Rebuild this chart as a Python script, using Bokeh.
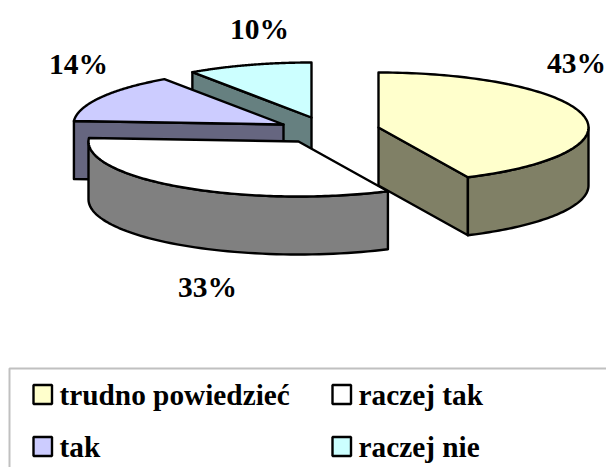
import numpy as np
from bokeh.plotting import figure
from bokeh.models import Range1d
from bokeh.core.properties import value
from bokeh.embed import file_html
from bokeh.resources import INLINE

categories = ["trudno powiedzieć", "raczej tak", "tak", "raczej nie"]
shares = [43.0, 33.0, 14.4, 9.6]
share_labels = ["43%", "33%", "14%", "10%"]
top_colors = ["#FFFFCC", "#FFFFFF", "#CCCCFF", "#CCFFFF"]
side_colors = ["#808066", "#808080", "#666680", "#668080"]

# layout of the exploded pie (page pixels)
centers = [(378, 127), (298, 141), (283, 124), (311, 117)]
label_pos = [(576, 62), (207, 286), (78, 63), (259, 28)]
RX, RY, DEPTH = 210, 55, 58
legend_pos = [(33, 394), (332, 394), (33, 446), (332, 446)]

FONT = value("Liberation Serif")
p = figure(width=606, height=467, output_backend="svg", toolbar_location=None,
           x_range=Range1d(0, 606), y_range=Range1d(467, 0),
           min_border=0, outline_line_color=None, background_fill_color="white",
           border_fill_color="white")
p.axis.visible = False
p.grid.visible = False


def pt(c, pct, dz=0):
    a = np.radians(np.asarray(pct, dtype=float) * 3.6)
    return c[0] + RX * np.sin(a), c[1] - RY * np.cos(a) + dz


def poly(xs, ys, color):
    p.patch(list(xs), list(ys), fill_color=color, line_color="black",
            line_width=2.4, line_join="round")


starts = np.concatenate([[0], np.cumsum(shares)[:-1]])
ends = np.cumsum(shares)

# back to front: raczej nie, tak, raczej tak, trudno powiedziec
for i in [3, 2, 1, 0]:
    c = centers[i]
    s, e = starts[i], ends[i]
    # visible radial wall
    rad = None
    if i == 0:
        rad = e
    elif i in (2, 3):
        rad = s
    if rad is not None:
        x0, y0 = pt(c, rad)
        x1, y1 = pt(c, rad, DEPTH)
        poly([x0, c[0], c[0], x1], [y0, c[1], c[1] + DEPTH, y1], side_colors[i])
    # outer wall: the part of the rim facing the viewer (25 % .. 75 %)
    a, b = max(s, 25), min(e, 75)
    if a < b:
        t = np.linspace(a, b, 60)
        xa, ya = pt(c, t)
        xb, yb = pt(c, t[::-1], DEPTH)
        poly(np.r_[xa, xb], np.r_[ya, yb], side_colors[i])
    # top face
    t = np.linspace(s, e, 120)
    xa, ya = pt(c, t)
    poly(np.r_[c[0], xa], np.r_[c[1], ya], top_colors[i])

# percentage labels
p.text([q[0] for q in label_pos], [q[1] for q in label_pos], text=share_labels,
       text_font=FONT, text_font_style="bold", text_font_size="29.5px",
       text_align="center", text_baseline="middle", text_color="black")

# legend frame, running off the picture to the right and below
p.line([9, 9, 640], [490, 368, 368], line_color="#C0C0C0", line_width=2)
for (x, y), name, col in zip(legend_pos, categories, top_colors):
    p.quad(left=x, right=x + 18.5, top=y - 9.5, bottom=y + 9.5, fill_color=col,
           line_color="black", line_width=2.4)
    p.text([x + 26], [y], text=[name], text_font=FONT, text_font_style="bold",
           text_font_size="29.3px", text_align="left", text_baseline="middle",
           text_color="black")

open("out.html", "w").write(file_html(p, INLINE))
